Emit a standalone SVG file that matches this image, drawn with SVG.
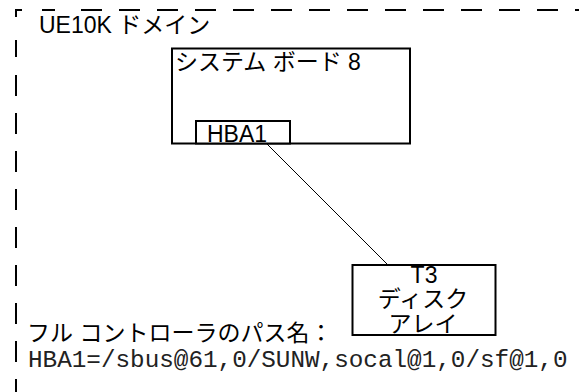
<svg xmlns="http://www.w3.org/2000/svg" width="579" height="392" viewBox="0 0 579 392">
<style>
.box{fill:#fff;stroke:#000;stroke-width:2}
.lbl{font-family:"Liberation Sans","Noto Sans CJK JP",sans-serif;font-size:23px;fill:#000}
.mono{font-family:"Liberation Mono","Noto Sans CJK JP",monospace;font-size:24.3px;fill:#222}
.dash{fill:none;stroke:#000;stroke-width:2}
.conn{fill:none;stroke:#000;stroke-width:1}
</style>
<rect width="579" height="392" fill="#fff"/>
<g id="domain">
<path class="dash" d="M22,10H16V17 M42,10H55 M16,40V57"/>
<line class="dash" x1="81" y1="10" x2="579" y2="10" stroke-dasharray="21 17"/>
<line class="dash" x1="16" y1="75" x2="16" y2="392" stroke-dasharray="21 17"/>
<text class="lbl" x="39" y="33">UE10K ドメイン</text>
</g>
<g id="connectors">
<line class="conn" x1="267" y1="144" x2="387" y2="264"/>
</g>
<g id="system-board">
<rect class="box" x="172" y="48.5" width="238" height="95"/>
<text class="lbl" x="175" y="70">システム ボード 8</text>
</g>
<g id="hba1">
<rect class="box" x="196" y="121" width="94" height="22.5"/>
<text class="lbl" x="207" y="141.5">HBA1</text>
</g>
<g id="t3">
<rect class="box" x="352.5" y="265" width="143" height="70"/>
<text class="lbl" text-anchor="middle" x="424" y="283">T3</text>
<text class="lbl" text-anchor="middle" x="423" y="307">ディスク</text>
<text class="lbl" text-anchor="middle" x="423" y="332">アレイ</text>
</g>
<g id="path-note">
<text class="lbl" x="27" y="341">フル コントローラのパス名：</text>
<text class="mono" x="28" y="367">HBA1=/sbus@61,0/SUNW,socal@1,0/sf@1,0</text>
</g>
</svg>
